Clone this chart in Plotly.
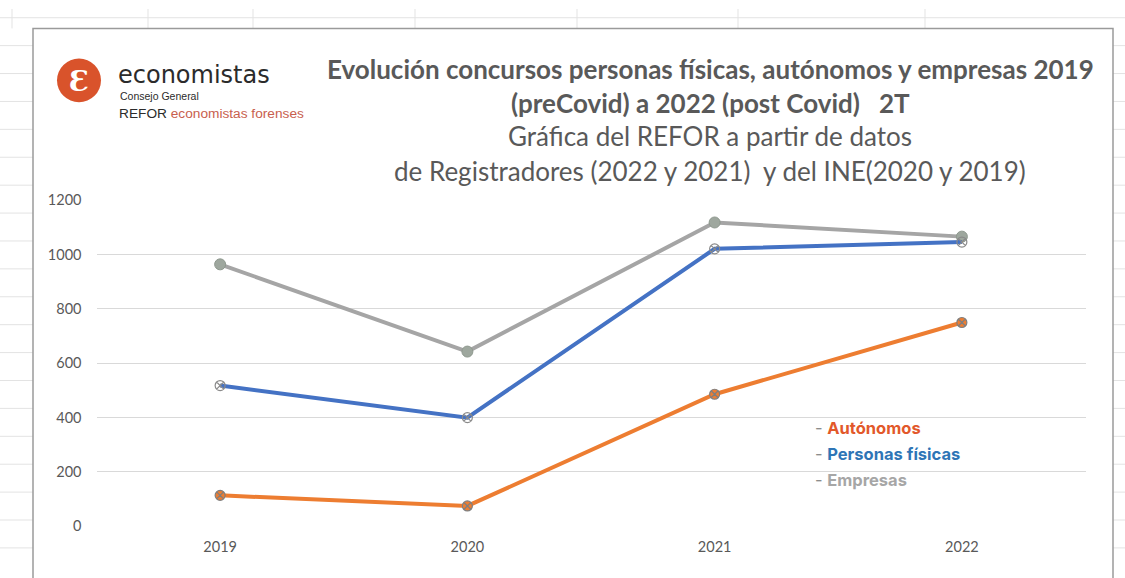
import plotly.graph_objects as go

years = ["2019", "2020", "2021", "2022"]
autonomos = [114, 75, 486, 750]
personas_fisicas = [518, 400, 1021, 1046]
empresas = [964, 643, 1118, 1066]
y_ticks = [0, 200, 400, 600, 800, 1000, 1200]

W, H = 1125, 578
def px(x):
    return x / W
def py(y):
    return 1 - y / H

fig = go.Figure()

fig.add_trace(go.Scatter(
    x=years, y=empresas, mode="lines+markers", name="Empresas",
    line=dict(color="#A5A5A5", width=4),
    marker=dict(symbol="circle", size=11, color="#9EA79E", line=dict(color="#8E988E", width=1)),
    cliponaxis=False))
fig.add_trace(go.Scatter(
    x=years, y=personas_fisicas, mode="lines+markers", name="Personas físicas",
    line=dict(color="#4472C4", width=4),
    marker=dict(symbol="circle-x-open", size=10, color="#8A8A8A", line=dict(width=1.2)),
    cliponaxis=False))
fig.add_trace(go.Scatter(
    x=years, y=autonomos, mode="lines+markers", name="Autónomos",
    line=dict(color="#ED7D31", width=4),
    marker=dict(symbol="circle-x", size=10, color="#ED7D31", line=dict(color="#7F7F7F", width=1.2)),
    cliponaxis=False))

shapes = []
grid_col = "#E3E3E3"
# spreadsheet background grid
for k in range(20):
    yy = 9 + 28.75 * k
    if k == 0:
        shapes.append(dict(type="line", xref="paper", yref="paper", x0=0, x1=1, y0=py(yy), y1=py(yy),
                           line=dict(color=grid_col, width=1), layer="below"))
    else:
        shapes.append(dict(type="line", xref="paper", yref="paper", x0=0, x1=px(33), y0=py(yy), y1=py(yy),
                           line=dict(color=grid_col, width=1), layer="below"))
        shapes.append(dict(type="line", xref="paper", yref="paper", x0=px(1113), x1=1, y0=py(yy), y1=py(yy),
                           line=dict(color=grid_col, width=1), layer="below"))
for xx in [12, 148, 253, 415, 577, 738, 925]:
    shapes.append(dict(type="line", xref="paper", yref="paper", x0=px(xx), x1=px(xx), y0=py(0), y1=py(20),
                       line=dict(color=grid_col, width=1), layer="below"))
# chart box border
shapes.append(dict(type="rect", xref="paper", yref="paper", x0=px(33), x1=px(1113), y0=py(590), y1=py(20),
                   line=dict(color="#9A9A9A", width=1.5), fillcolor="white", layer="below"))
# logo circle
shapes.append(dict(type="circle", xref="paper", yref="paper", x0=px(57), x1=px(101), y0=py(96), y1=py(51),
                   line=dict(color="#D9532B", width=0), fillcolor="#D9532B", layer="above"))

title_col = "#595959"
annotations = [
    dict(text="<b>Evolución concursos personas físicas, autónomos y empresas 2019</b>", x=px(710), y=py(62),
         font=dict(family="Lato", size=26, color=title_col)),
    dict(text="<b>(preCovid) a 2022 (post Covid)   2T</b>", x=px(710), y=py(97),
         font=dict(family="Lato", size=26, color=title_col)),
    dict(text="Gráfica del REFOR a partir de datos", x=px(710), y=py(131),
         font=dict(family="Lato", size=26, color=title_col)),
    dict(text="de Registradores (2022 y 2021)  y del INE(2020 y 2019)", x=px(710), y=py(167),
         font=dict(family="Lato", size=26, color=title_col)),
    # logo
    dict(text="<b>Ɛ</b>", x=px(79), y=py(75), font=dict(family="DejaVu Serif", size=28, color="white")),
    dict(text="economistas", x=px(116), y=py(68), xanchor="left",
         font=dict(family="DejaVu Sans", size=24, color="#2B2B2B")),
    dict(text="Consejo General", x=px(118), y=py(89.5), xanchor="left",
         font=dict(family="Liberation Sans", size=10.5, color="#2B2B2B")),
    dict(text="REFOR <span style='color:#C8604E'>economistas forenses</span>", x=px(117), y=py(108), xanchor="left",
         font=dict(family="Liberation Sans", size=13.7, color="#2B2B2B")),
    # legend texts
    dict(text="<span style='color:#8C8C8C'>- </span><b>Autónomos</b>", x=px(813), y=py(432), xanchor="left",
         font=dict(family="Inter", size=16.5, color="#E2582A")),
    dict(text="<span style='color:#8C8C8C'>- </span><b>Personas físicas</b>", x=px(813), y=py(458), xanchor="left",
         font=dict(family="Inter", size=16.5, color="#2E75B6")),
    dict(text="<span style='color:#8C8C8C'>- </span><b>Empresas</b>", x=px(813), y=py(485), xanchor="left",
         font=dict(family="Inter", size=16.5, color="#A6A6A6")),
]
for a in annotations:
    a.setdefault("xref", "paper")
    a.setdefault("yref", "paper")
    a.setdefault("showarrow", False)
    a.setdefault("xanchor", "center")
    a.setdefault("yanchor", "middle")

fig.update_layout(
    width=W, height=H,
    margin=dict(l=0, r=0, t=0, b=0),
    paper_bgcolor="white", plot_bgcolor="rgba(0,0,0,0)",
    showlegend=False,
    shapes=shapes,
    annotations=annotations,
    xaxis=dict(domain=[px(96.5), px(1085.5)], range=[-0.5, 3.5], type="category",
               showgrid=False, zeroline=False, showline=False, ticks="",
               tickfont=dict(family="Lato", size=14.5, color="#595959"), ticklabelstandoff=10),
    yaxis=dict(domain=[py(533), py(197)], range=[0, 1200], tickvals=y_ticks,
               showgrid=True, gridcolor="#D9D9D9", gridwidth=1, zeroline=False, showline=False, ticks="",
               tickfont=dict(family="Lato", size=14.5, color="#595959"), ticklabelstandoff=14),
)

fig.write_html("out.html", config={"displayModeBar": False},
               post_script="document.body.style.margin='0';document.body.style.overflow='hidden';")
